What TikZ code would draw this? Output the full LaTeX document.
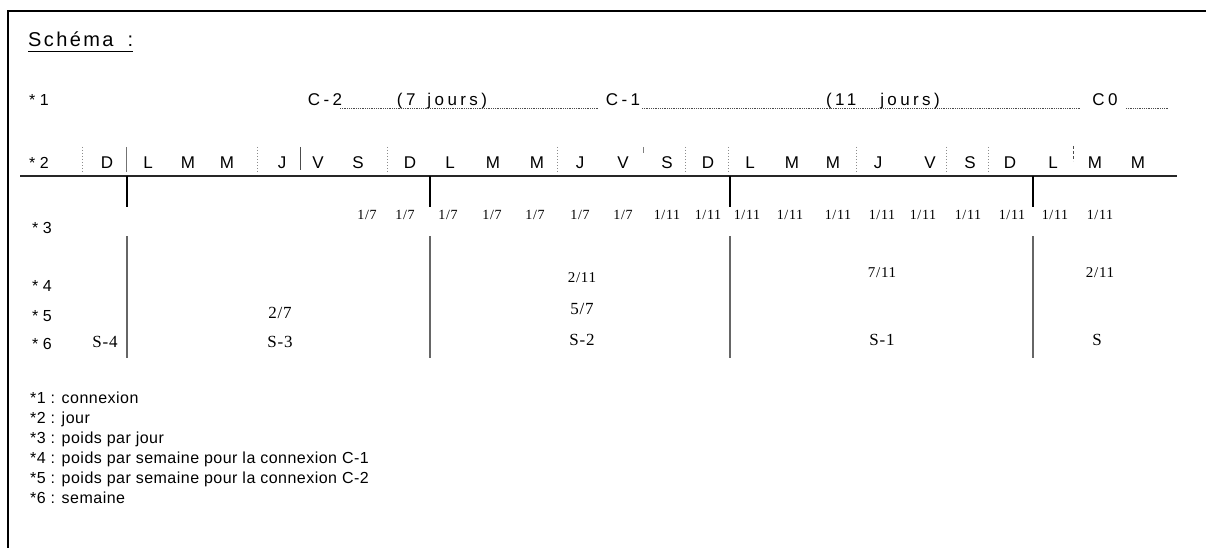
\documentclass[tikz,border=0pt]{standalone}
\usepackage{fontspec}
\setmainfont{Liberation Sans}
\newfontfamily\serf{Liberation Serif}[LetterSpace=5]
\newfontfamily\wide{Liberation Sans}[LetterSpace=20]
\newfontfamily\legf{Liberation Sans}[LetterSpace=3]
\begin{document}
\begin{tikzpicture}[x=1pt,y=-1pt,
  lab/.style={anchor=base west,inner sep=0pt,font=\fontsize{16}{18}\selectfont},
  conn/.style={anchor=base,inner sep=0pt,font=\wide\fontsize{17}{19}\selectfont},
  day/.style={anchor=base,inner sep=0pt,font=\fontsize{17}{19}\selectfont},
  frac/.style={anchor=base,inner sep=0pt,font=\serf\fontsize{14}{16}\selectfont},
  fracb/.style={anchor=base,inner sep=0pt,font=\serf\fontsize{15}{17}\selectfont},
  wk/.style={anchor=base,inner sep=0pt,font=\serf\fontsize{17}{19}\selectfont},
  leg/.style={anchor=base west,inner sep=0pt,font=\legf\fontsize{16}{18}\selectfont},
  dotl/.style={line width=0.9pt,dash pattern=on 1pt off 0.8pt,black!70},
  sepd/.style={line width=0.7pt,dash pattern=on 1.5pt off 1.5pt,black!45},
  weektick/.style={line width=2.6pt,black},
  weekline/.style={line width=1.8pt,black!60},
  frame/.style={line width=2.8pt,black}]
\useasboundingbox (0,0) rectangle (1206,548);
% frame (cut at right and bottom)
\draw[frame] (8,548) -- (8,11) -- (1206,11);
% title
\node[anchor=base west,inner sep=0pt,font=\fontsize{20}{22}\selectfont\addfontfeatures{LetterSpace=12}] (title) at (28,47) {Schéma\hspace{14pt}:};
\draw[line width=0.8pt] (title.base west) ++(0,4) coordinate (ul1) -- (title.base east |- ul1);
% row labels
\node[lab] (r1) at (29,106) {* 1};
\node[lab] (r2) at (29,168) {* 2};
\node[lab] (r3) at (32,233) {* 3};
\node[lab] (r4) at (32,291) {* 4};
\node[lab] (r5) at (32,321) {* 5};
\node[lab] (r6) at (32,349) {* 6};
% row 1 : connexions
\node[conn] (c2) at (325,106) {C-2};
\node[conn] (j7) at (442,106) {(7\hspace{12pt}jours)};
\node[conn] (c1) at (623,106) {C-1};
\node[conn] (j11) at (883,106) {(11\hspace{24pt}jours)};
\node[conn] (c0) at (1105,106) {C0};
\coordinate (d1a) at (340,108.5); \coordinate (d1b) at (598,108.5);
\coordinate (d2a) at (642,108.5); \coordinate (d2b) at (1080,108.5);
\coordinate (d3a) at (1126,108.5); \coordinate (d3b) at (1168,108.5);
\draw[dotl] (d1a) -- (d1b);
\draw[dotl] (d2a) -- (d2b);
\draw[dotl] (d3a) -- (d3b);
% row 2 : days
\foreach \x/\t [count=\i] in {107/D,148/L,188/M,227/M,282/J,318/V,358/S,410/D,450/L,493/M,537/M,580/J,623/V,667/S,708/D,750/L,792/M,833/M,878/J,930/V,970/S,1010/D,1053/L,1095/M,1138/M}
  \node[day] (day\i) at (\x,168) {\t};
% separators between days
\foreach \x in {82,257,387,557,685,728,856,946,988}
  \draw[sepd] (\x,147) -- (\x,173);
\draw[line width=0.9pt,black!55] (126,147) -- (126,172);
\draw[line width=0.7pt,black!70] (300,147) -- (300,170);
\draw[line width=0.7pt,black!50] (643,147) -- (643,153);
\draw[line width=0.9pt,black!70,dash pattern=on 3pt off 2pt] (1073,146) -- (1073,161);
% horizontal line
\coordinate (hl0) at (20,176); \coordinate (hl1) at (1177,176);
\draw[line width=1.3pt,black!85] (hl0) -- (hl1);
% week boundaries
\foreach \x [count=\i] in {127,430,730,1033}{
  \coordinate (wt\i) at (\x,176); \coordinate (wb\i) at (\x,207);
  \draw[weektick] (wt\i) -- (wb\i);
  \coordinate (lt\i) at (\x,236); \coordinate (lb\i) at (\x,358);
  \draw[weekline] (lt\i) -- (lb\i);
}
% row 3 : weight per day
\foreach \x [count=\i] in {367,405,448,492,535,580,623}
  \node[frac] (s\i) at (\x,219) {1/7};
\foreach \x [count=\i] in {667,708,747,790,838,882,923,968,1012,1055,1100}
  \node[frac] (e\i) at (\x,219) {1/11};
% row 4
\node[fracb] (w4a) at (582,282) {2/11};
\node[fracb] (w4b) at (882,277) {7/11};
\node[fracb] (w4c) at (1100,277) {2/11};
% row 5
\node[wk] (w5a) at (280,318) {2/7};
\node[wk] (w5b) at (582,314) {5/7};
% row 6
\node[wk] (s4) at (105,347) {S-4};
\node[wk] (s3) at (280,347) {S-3};
\node[wk] (s2) at (582,345) {S-2};
\node[wk] (s1) at (882,345) {S-1};
\node[wk] (s0) at (1097,345) {S};
% legend
\node[leg] (l1) at (30,403) {*1 : connexion};
\node[leg] (l2) at (30,423) {*2 : jour};
\node[leg] (l3) at (30,443) {*3 : poids par jour};
\node[leg] (l4) at (30,463) {*4 : poids par semaine pour la connexion C-1};
\node[leg] (l5) at (30,483) {*5 : poids par semaine pour la connexion C-2};
\node[leg] (l6) at (30,503) {*6 : semaine};
\end{tikzpicture}
\end{document}
